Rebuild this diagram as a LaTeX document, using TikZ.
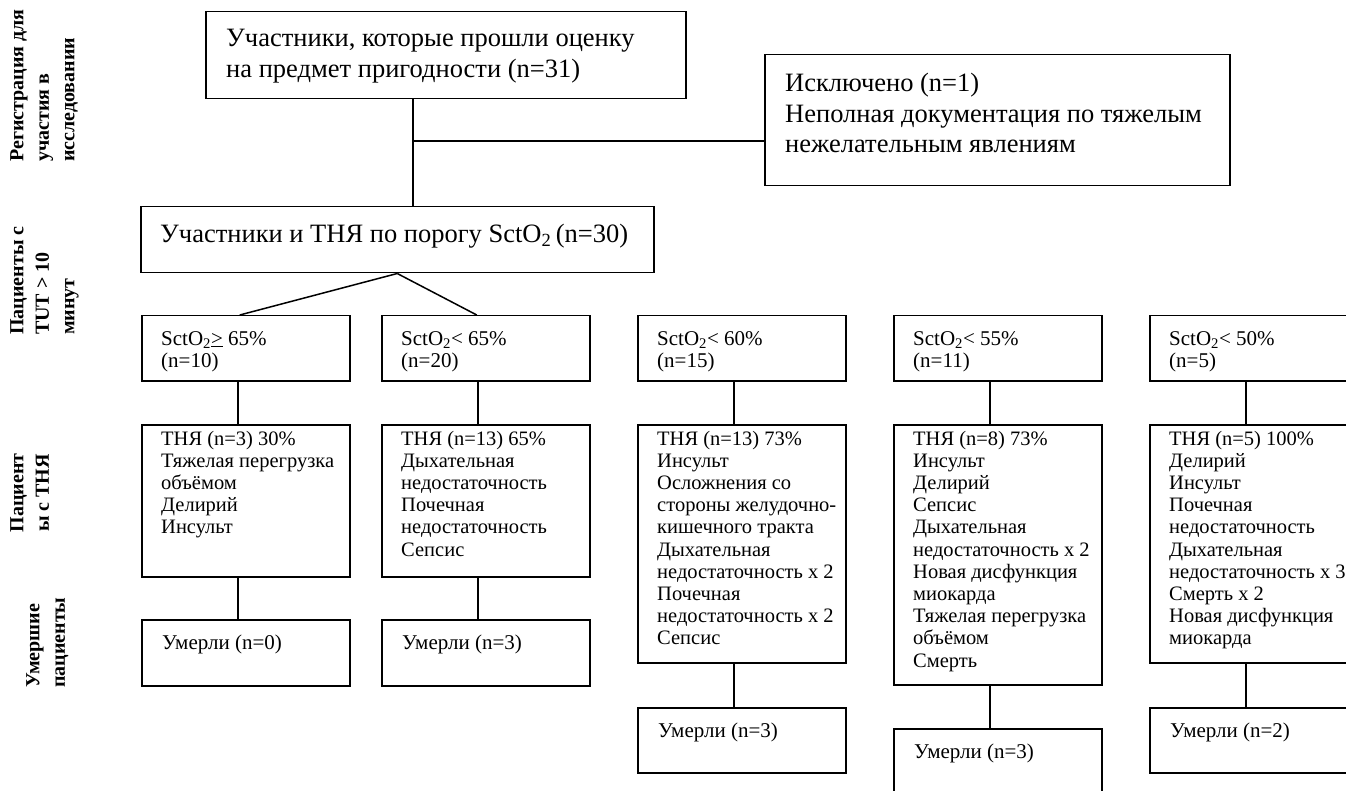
\documentclass[tikz,border=0pt]{standalone}
\usepackage{fontspec}
\setmainfont{Liberation Serif}
\newcommand{\mylines}[1]{\begin{tabular}[t]{@{}l@{}}#1\end{tabular}}
\begin{document}
\begin{tikzpicture}[x=1pt,y=-1pt,
  box/.style={draw, line width=1.5pt, inner sep=0pt, anchor=north west},
  ln/.style={line width=1.5pt},
  big/.style={font=\fontsize{26.5}{30.5}\selectfont, inner sep=0pt, anchor=base west},
  small/.style={font=\fontsize{21}{22.5}\selectfont, inner sep=0pt, anchor=base west},
  lst/.style={font=\fontsize{20.5}{22.2}\selectfont, inner sep=0pt, anchor=base west},
  side/.style={font=\bfseries\fontsize{20}{25.5}\selectfont, rotate=90, inner sep=0pt}]
\useasboundingbox (0,0) rectangle (1346,791);

% side labels
\node[side, align=left, anchor=north west] (s1) at (10,162) {Регистрация для\\участия в\\исследовании};
\node[side, align=left, anchor=north west] (s2) at (10,335) {Пациенты с\\TUT > 10\\минут};
\node[side, align=center, anchor=north] (s3) at (10,493) {Пациент\\ы с ТНЯ};
\node[side, align=left, anchor=north west] (s4) at (26,688) {Умершие\\пациенты};

% top
\node[box, minimum width=480pt, minimum height=87pt] (top) at (205,11) {};
\node[big] (ttop) at (226,47) {\mylines{Участники, которые прошли оценку\\на предмет пригодности (n=31)}};
\node[box, minimum width=465pt, minimum height=131pt] (excl) at (764,54) {};
\node[big] (texcl) at (785,92) {\mylines{Исключено (n=1)\\Неполная документация по тяжелым\\нежелательным явлениям}};
\node[box, minimum width=513pt, minimum height=66pt] (r2) at (140,206) {};
\node[big] (tr2) at (160,243) {Участники и ТНЯ по порогу SctO\textsubscript{2}\,(n=30)};

\coordinate (j1) at (413,141);
\draw[ln] (j1 |- top.south) -- (j1 |- r2.north);
\draw[ln] (j1) -- (excl.west |- j1);

% row 3
\foreach \n/\x in {a/141,b/381,c/637,d/893,e/1149}{
  \node[box, minimum width=208pt, minimum height=65pt] (r3\n) at (\x,315) {};
}
\foreach \n/\t/\c in {a/{SctO\textsubscript{2}\underline{>} 65\%}/{(n=10)},
                      b/{SctO\textsubscript{2}< 65\%}/{(n=20)},
                      c/{SctO\textsubscript{2}< 60\%}/{(n=15)},
                      d/{SctO\textsubscript{2}< 55\%}/{(n=11)},
                      e/{SctO\textsubscript{2}< 50\%}/{(n=5)}}{
  \begin{scope}
    \clip ([xshift=1pt]r3\n.north west) rectangle ([yshift=10pt]r3\n.south east);
    \node[small] (t3\n) at ([xshift=20pt,yshift=-30pt]r3\n.north west) {\mylines{\t\\\c}};
  \end{scope}
}
\draw[ln] (r2.south) -- ([xshift=-6pt]r3a.north);
\draw[ln] (r2.south) -- ([xshift=-9pt]r3b.north);

% row 4
\node[box, minimum width=208pt, minimum height=152pt] (r4a) at (141,424) {};
\node[box, minimum width=208pt, minimum height=152pt] (r4b) at (381,424) {};
\node[box, minimum width=208pt, minimum height=238pt] (r4c) at (637,424) {};
\node[box, minimum width=208pt, minimum height=260pt] (r4d) at (893,424) {};
\node[box, minimum width=208pt, minimum height=238pt] (r4e) at (1149,424) {};

\node[lst] (t4a) at ([xshift=20pt,yshift=-21pt]r4a.north west) {\mylines{ТНЯ (n=3) 30\%\\Тяжелая перегрузка\\объёмом\\Делирий\\Инсульт}};
\node[lst] (t4b) at ([xshift=20pt,yshift=-21pt]r4b.north west) {\mylines{ТНЯ (n=13) 65\%\\Дыхательная\\недостаточность\\Почечная\\недостаточность\\Сепсис}};
\node[lst] (t4c) at ([xshift=20pt,yshift=-21pt]r4c.north west) {\mylines{ТНЯ (n=13) 73\%\\Инсульт\\Осложнения со\\стороны желудочно-\\кишечного тракта\\Дыхательная\\недостаточность х 2\\Почечная\\недостаточность х 2\\Сепсис}};
\node[lst] (t4d) at ([xshift=20pt,yshift=-21pt]r4d.north west) {\mylines{ТНЯ (n=8) 73\%\\Инсульт\\Делирий\\Сепсис\\Дыхательная\\недостаточность х 2\\Новая дисфункция\\миокарда\\Тяжелая перегрузка\\объёмом\\Смерть}};
\node[lst] (t4e) at ([xshift=20pt,yshift=-21pt]r4e.north west) {\mylines{ТНЯ (n=5) 100\%\\Делирий\\Инсульт\\Почечная\\недостаточность\\Дыхательная\\недостаточность х 3\\Смерть х 2\\Новая дисфункция\\миокарда}};

% row 5
\node[box, minimum width=208pt, minimum height=66pt] (r5a) at (141,619) {};
\node[box, minimum width=208pt, minimum height=66pt] (r5b) at (381,619) {};
\node[box, minimum width=208pt, minimum height=65pt] (r5c) at (637,707) {};
\node[box, minimum width=208pt, minimum height=70pt] (r5d) at (893,728) {};
\node[box, minimum width=208pt, minimum height=65pt] (r5e) at (1149,707) {};
\foreach \n/\c in {a/0,b/3,c/3,d/3,e/2}{
  \node[small] (t5\n) at ([xshift=21pt,yshift=-30pt]r5\n.north west) {Умерли (n=\c)};
}

% vertical connectors
\foreach \n in {a,b,c,d,e}{
  \draw[ln] ([xshift=-8pt]r3\n.south) -- ([xshift=-8pt]r4\n.north);
  \draw[ln] ([xshift=-8pt]r4\n.south) -- ([xshift=-8pt]r5\n.north);
}
\end{tikzpicture}
\end{document}
